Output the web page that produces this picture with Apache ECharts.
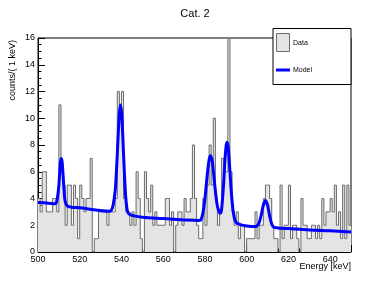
<!DOCTYPE html>
<html>
<head>
<meta charset="utf-8">
<script src="https://cdn.jsdelivr.net/npm/echarts@6/dist/echarts.min.js"></script>
<style>html,body{margin:0;padding:0;background:#fff;}#c{width:390px;height:281px;}</style>
</head>
<body>
<div id="c"></div>
<script>
// Histogram: 1 keV bins starting at 500 keV
var BIN_START = 500;
var BIN_WIDTH = 1;
var counts = [
  4,3,6,6,3,3,3,4,4,3,
  11,6,5,2,5,5,2,5,4,1,
  5,4,3,4,4,7,0,1,1,3,
  3,3,3,2,3,3,3,4,12,11,
  12,4,3,3,2,3,2,6,4,1,
  0,6,4,3,5,2,3,2,2,2,
  2,4,4,2,3,0,2,3,3,2,
  4,3,3,4,8,4,2,1,1,4,
  2,5,8,5,10,4,2,3,7,6,
  6,16,6,3,2,3,1,2,2,0,
  1,1,1,1,3,1,2,2,4,5,
  5,4,2,1,1,0,5,1,2,2,
  5,1,2,2,1,0,4,2,2,1,
  1,2,2,1,2,1,4,2,3,3,
  4,3,5,2,3,1,5,1,5,2
];
// Model curve
var modelE = [500,505,508,509,510,510.5,511,511.5,512,512.5,513,514,516,520,525,530,534,535,536,537,537.5,538,538.5,539,539.5,540,540.5,541,541.5,542,542.5,543,544,546,550,560,570,577,578,579,580,581,582,582.7,583.5,584,585,586,587,587.5,588,589,589.5,590,590.5,591,591.5,592,593,594,595,597,600,604,605,606,607,608,609,610,611,612,613,615,620,630,640,650];
var modelY = [3.7,3.65,3.6,3.8,5.0,6.2,7.0,6.8,5.8,4.6,3.8,3.45,3.35,3.3,3.2,3.1,3.05,3.1,3.5,4.6,5.8,7.3,9.0,10.4,11.0,10.5,9.1,7.3,5.6,4.2,3.4,3.0,2.8,2.7,2.6,2.5,2.4,2.35,2.4,2.9,4.0,5.6,6.9,7.2,6.8,6.1,4.6,3.4,2.95,2.9,3.2,5.2,6.6,7.7,8.2,8.0,7.2,6.0,3.8,2.6,2.2,2.05,1.95,1.9,1.95,2.2,2.8,3.5,3.85,3.5,2.7,2.1,1.85,1.8,1.75,1.65,1.58,1.5];
var xTicks = [500,520,540,560,580,600,620,640];
var yTicks = [0,2,4,6,8,10,12,14,16];

var FONT = 'Liberation Sans, Arial, sans-serif';
var histData = counts.map(function(c,i){ return [BIN_START + i*BIN_WIDTH, c]; });
histData.push([BIN_START + counts.length*BIN_WIDTH, counts[counts.length-1]]);
var modelData = modelE.map(function(e,i){ return [e, modelY[i]]; });

var chart = echarts.init(document.getElementById('c'), null, {renderer:'canvas'});
chart.setOption({
  animation: false,
  backgroundColor: '#fff',
  title: {text: 'Cat. 2', left: 'center', top: 3, textStyle: {fontFamily: FONT, fontSize: 11, fontWeight: 'normal', color: '#000'}},
  grid: {left: 38, right: 39, top: 38, bottom: 29, show: true, borderColor: '#000', borderWidth: 1, backgroundColor: 'transparent'},
  xAxis: {
    type: 'value', min: xTicks[0], max: BIN_START + counts.length*BIN_WIDTH, interval: xTicks[1]-xTicks[0],
    axisLine: {lineStyle: {color: '#000', width: 1}},
    axisTick: {inside: true, length: 7, lineStyle: {color: '#000'}},
    minorTick: {show: true, splitNumber: 4, length: 3.5, lineStyle: {color: '#000'}},
    splitLine: {show: false},
    axisLabel: {fontFamily: FONT, fontSize: 9, color: '#000', margin: 3, showMaxLabel: false,
      formatter: function(v){ return xTicks.indexOf(v) >= 0 ? String(v) : ''; }}
  },
  yAxis: {
    type: 'value', min: yTicks[0], max: yTicks[yTicks.length-1], interval: yTicks[1]-yTicks[0],
    axisLine: {lineStyle: {color: '#000', width: 1}},
    axisTick: {inside: true, length: 7, lineStyle: {color: '#000'}},
    minorTick: {show: true, splitNumber: 4, length: 3.5, lineStyle: {color: '#000'}},
    splitLine: {show: false},
    axisLabel: {fontFamily: FONT, fontSize: 9, color: '#000', margin: 3}
  },
  series: [
    {type: 'line', step: 'end', data: histData, symbol: 'none', z: 2,
     lineStyle: {color: '#6a6a6a', width: 1}, areaStyle: {color: '#e4e4e4', opacity: 1}},
    {type: 'line', data: modelData, symbol: 'none', smooth: 0.35, z: 3,
     lineStyle: {color: '#0000ff', width: 3}}
  ],
  graphic: [
    {type: 'text', rotation: Math.PI/2, x: 13, y: 40, z: 10,
     style: {text: 'counts/( 1 keV)', font: '9px ' + FONT, fill: '#000', align: 'right', verticalAlign: 'middle'}},
    {type: 'text', x: 351, y: 267, z: 10,
     style: {text: 'Energy [keV]', font: '9px ' + FONT, fill: '#000', align: 'right', verticalAlign: 'middle'}},
    {type: 'rect', z: 20, shape: {x: 273, y: 28.5, width: 78, height: 56},
     style: {fill: '#fff', stroke: '#000', lineWidth: 1}},
    {type: 'rect', z: 21, shape: {x: 276.5, y: 33.5, width: 13, height: 18},
     style: {fill: '#e4e4e4', stroke: '#6a6a6a', lineWidth: 1}},
    {type: 'text', z: 21, x: 293, y: 43,
     style: {text: 'Data', font: '7px ' + FONT, fill: '#000', align: 'left', verticalAlign: 'middle'}},
    {type: 'line', z: 21, shape: {x1: 276, y1: 70, x2: 290, y2: 70},
     style: {stroke: '#0000ff', lineWidth: 3}},
    {type: 'text', z: 21, x: 293, y: 70,
     style: {text: 'Model', font: '7px ' + FONT, fill: '#000', align: 'left', verticalAlign: 'middle'}}
  ]
});
</script>
</body>
</html>
